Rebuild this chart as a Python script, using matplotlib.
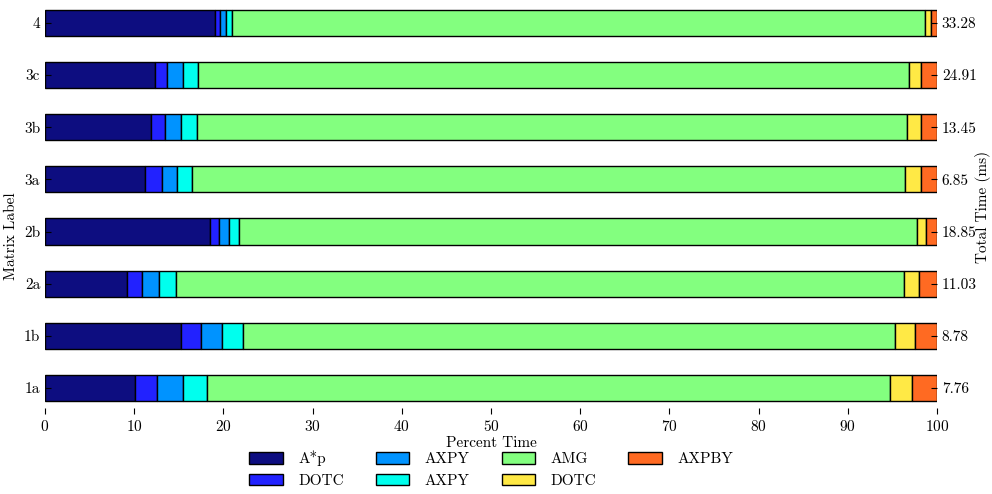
import matplotlib
matplotlib.use("Agg")
import matplotlib.pyplot as plt
import numpy as np

plt.rcParams["font.family"] = ["cmr10", "DejaVu Serif"]
plt.rcParams["axes.formatter.use_mathtext"] = True
plt.rcParams["font.size"] = 11

labels = ["1a", "1b", "2a", "2b", "3a", "3b", "3c", "4"]
total_ms = ["7.76", "8.78", "11.03", "18.85", "6.85", "13.45", "24.91", "33.28"]

kernels = ["A*p", "DOTC", "AXPY", "AXPY", "AMG", "DOTC", "AXPBY"]
colors = ["#0d0d80", "#2222ff", "#0093ff", "#00ffee", "#83ff7f", "#ffe945", "#ff6a22"]

# percent of total time per kernel, one list per matrix (order follows `labels`)
ap_pct    = [10.13, 15.25, 9.15, 18.50, 11.21, 11.88, 12.33, 19.10]
dotc_pct  = [2.47, 2.20, 1.75, 0.97, 1.87, 1.57, 1.35, 0.55]
axpy_pct  = [2.83, 2.43, 1.88, 1.13, 1.68, 1.83, 1.75, 0.65]
axpy2_pct = [2.69, 2.32, 1.91, 1.15, 1.72, 1.76, 1.76, 0.70]
amg_pct   = [76.58, 73.10, 81.61, 76.05, 79.92, 79.56, 79.71, 77.70]
dotc2_pct = [2.50, 2.20, 1.70, 1.00, 1.80, 1.60, 1.30, 0.60]
axpby_pct = [2.80, 2.50, 2.00, 1.20, 1.80, 1.80, 1.80, 0.70]

series = [ap_pct, dotc_pct, axpy_pct, axpy2_pct, amg_pct, dotc2_pct, axpby_pct]

fig = plt.figure(figsize=(9.92, 4.94), dpi=100)
ax = fig.add_axes([45 / 992, 80 / 494, 892 / 992, 414 / 494])

y = np.arange(len(labels))
left = np.zeros(len(labels))
for name, vals, col in zip(kernels, series, colors):
    vals = np.asarray(vals)
    ax.barh(y, vals, left=left, height=0.5, color=col, edgecolor="black",
            linewidth=1.0, label=name)
    left += vals

ax.set_xlim(0, 100)
ax.set_ylim(-0.5, 7.44)
ax.set_xticks(np.arange(0, 101, 10))
ax.set_yticks(y)
ax.set_yticklabels(labels)
ax.tick_params(direction="in", length=4, width=0.8)
for s in ax.spines.values():
    s.set_visible(False)
ax.set_xlabel("Percent Time", labelpad=2)
ax.set_ylabel("Matrix Label")
ax.yaxis.set_label_coords(-0.03, 0.43)

ax2 = ax.twinx()
ax2.set_ylim(ax.get_ylim())
ax2.set_yticks(y)
ax2.set_yticklabels(total_ms)
ax2.tick_params(direction="in", length=4, width=0.8)
for s in ax2.spines.values():
    s.set_visible(False)
ax2.set_ylabel("Total Time (ms)", labelpad=-1)

handles, lbls = ax.get_legend_handles_labels()
ax.legend(handles, lbls, ncol=4, frameon=False, loc="upper center",
          bbox_to_anchor=(0.5, -0.073), handlelength=2.2, handleheight=0.8,
          handletextpad=1.0, columnspacing=2.1, labelspacing=0.5,
          borderaxespad=0)

fig.savefig("out.png", dpi=100)
